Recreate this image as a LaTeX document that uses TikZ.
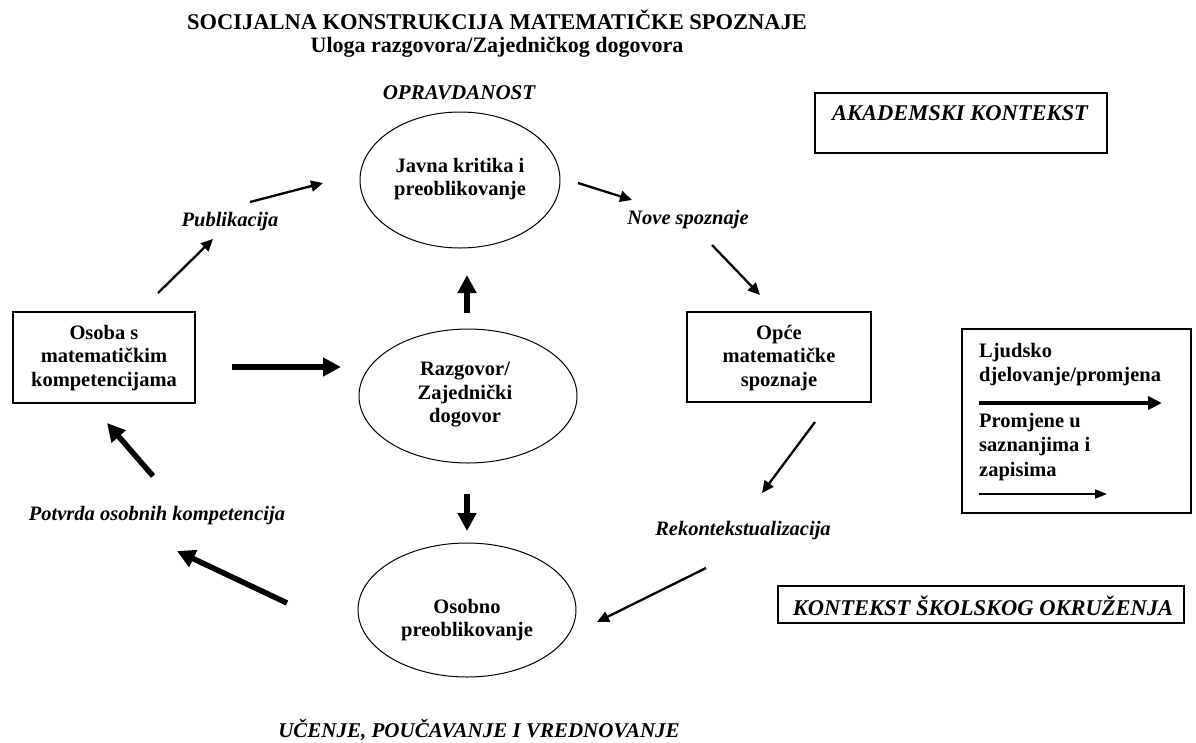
\documentclass[tikz,border=0pt]{standalone}
\usepackage{fontspec}
\setmainfont{Liberation Serif}
\usetikzlibrary{positioning}
\usetikzlibrary{shapes.geometric, arrows.meta}

\newcommand{\tijelo}{\fontsize{20.5}{23.5}\selectfont\bfseries}
\newcommand{\oznake}{\fontsize{20.5}{24}\selectfont\bfseries\itshape}

\tikzset{
    krug/.style={draw, ellipse, line width=1pt, minimum width=218pt, minimum height=134pt},
    okvir/.style={draw, line width=1.3pt},
    tekst/.style={align=center, font=\tijelo, inner sep=0pt},
    oznaka/.style={font=\oznake, inner sep=0pt},
    debela/.style={line width=5.5pt, -{Triangle[length=18pt,width=18pt]}},
    tanka/.style={line width=2.3pt, -{Triangle[length=12pt,width=11pt]}}
}

\begin{document}
\begin{tikzpicture}[x=1pt, y=-1pt]
    \useasboundingbox (0,0) rectangle (1196,742);

    % naslov
    \node[font=\fontsize{22.5}{27}\selectfont\bfseries, inner sep=0pt] (naslov) at (497,20) {SOCIJALNA KONSTRUKCIJA MATEMATIČKE SPOZNAJE};
    \node[font=\fontsize{22}{27}\selectfont\bfseries, inner sep=0pt] (podnaslov) at (497,47) {Uloga razgovora/Zajedničkog dogovora};
    \node[oznaka, font=\fontsize{21}{24}\selectfont\bfseries\itshape] (opravdanost) at (459,93) {OPRAVDANOST};
    \node[oznaka, font=\fontsize{21}{24}\selectfont\bfseries\itshape] (ucenje) at (479,730) {UČENJE, POUČAVANJE I VREDNOVANJE};

    % elipse
    \node[krug, minimum width=200pt, minimum height=136pt] (javna) at (460,180) {};
    \node[tekst] (javnatxt) at (460,179) {Javna kritika i\\preoblikovanje};
    \node[krug] (razgovor) at (468,396) {};
    \node[tekst] (razgovortxt) at (465,395) {Razgovor/\\Zajednički\\dogovor};
    \node[krug] (osobno) at (467,610) {};
    \node[tekst] (osobnotxt) at (467,620) {Osobno\\preoblikovanje};

    % pravokutnici
    \node[okvir, minimum width=182pt, minimum height=91pt] (osoba) at (104,357.5) {};
    \node[tekst] (osobatxt) at (104,358) {Osoba s\\matematičkim\\kompetencijama};
    \node[okvir, minimum width=184pt, minimum height=90pt] (opce) at (779,357) {};
    \node[tekst] (opcetxt) at (779,358) {Opće\\matematičke\\spoznaje};

    % konteksti
    \node[okvir, minimum width=292pt, minimum height=60pt] (akbox) at (961,123) {};
    \node[oznaka, font=\fontsize{22.5}{26}\selectfont\bfseries\itshape] (akademski) at (960,113) {AKADEMSKI KONTEKST};
    \node[okvir, minimum width=406pt, minimum height=37pt] (skbox) at (981,604.5) {};
    \node[oznaka, font=\fontsize{22.5}{26}\selectfont\bfseries\itshape] (skolski) at (983,606) {KONTEKST ŠKOLSKOG OKRUŽENJA};

    % oznake strelica
    \node[oznaka] (publikacija) at (230,222) {Publikacija};
    \node[oznaka] (nove) at (688,220) {Nove spoznaje};
    \node[oznaka] (potvrda) at (157,516) {Potvrda osobnih kompetencija};
    \node[oznaka] (rekont) at (743,531) {Rekontekstualizacija};

    % krajevi strelica
    \coordinate (p1) at (158,293);  \coordinate (p2) at (213,239);
    \coordinate (p3) at (250,202);  \coordinate (p4) at (323,183);
    \coordinate (n1) at (578,183);  \coordinate (n2) at (632,200);
    \coordinate (n3) at (712,245);  \coordinate (n4) at (760,295);
    \coordinate (r1) at (815,422);  \coordinate (r2) at (762,493);
    \coordinate (r3) at (706,568);  \coordinate (r4) at (597,622);
    \coordinate (d1) at (232,367);  \coordinate (d2) at (341,367);
    \coordinate (g1) at (467,313);  \coordinate (g2) at (467,275);
    \coordinate (k1) at (467,494);  \coordinate (k2) at (467,531);
    \coordinate (v1) at (287,603);  \coordinate (v2) at (177,551);
    \coordinate (v3) at (153,476);  \coordinate (v4) at (107,423);

    \draw[tanka] (p1) -- (p2);
    \draw[tanka] (p3) -- (p4);
    \draw[tanka] (n1) -- (n2);
    \draw[tanka] (n3) -- (n4);
    \draw[tanka] (r1) -- (r2);
    \draw[tanka] (r3) -- (r4);
    \draw[debela] (d1) -- (d2);
    \draw[debela] (g1) -- (g2);
    \draw[debela] (k1) -- (k2);
    \draw[debela] (v1) -- (v2);
    \draw[debela] (v3) -- (v4);

    % legenda
    \node[okvir, minimum width=229pt, minimum height=184pt] (legenda) at (1076.5,421) {};
    \node[tekst, align=left, anchor=north west, font=\fontsize{20.5}{24.5}\selectfont\bfseries] (ljudsko) at (979,343) {Ljudsko\\djelovanje/promjena};
    \node[tekst, align=left, anchor=north west, font=\fontsize{20.5}{24.5}\selectfont\bfseries] (promjene) at (979,413) {Promjene u\\saznanjima i\\zapisima};
    \coordinate (l1) at (979,403);  \coordinate (l2) at (1162,403);
    \coordinate (l3) at (979,494);  \coordinate (l4) at (1107,494);
    \draw[line width=4pt, -{Triangle[length=14pt,width=13pt]}] (l1) -- (l2);
    \draw[line width=1.8pt, -{Triangle[length=12pt,width=9pt]}] (l3) -- (l4);
\end{tikzpicture}
\end{document}
